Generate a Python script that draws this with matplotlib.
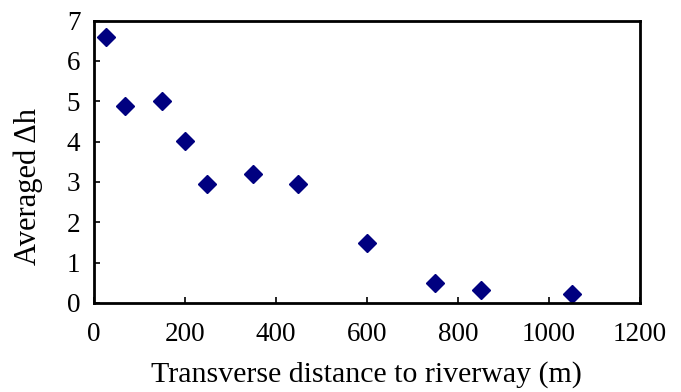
import matplotlib
matplotlib.use('Agg')
import matplotlib.pyplot as plt

# distance (m) and averaged dh
distance = [27, 70, 150, 200, 250, 350, 450, 600, 750, 850, 1050]
avg_dh = [6.58, 4.88, 5.01, 4.02, 2.96, 3.19, 2.94, 1.49, 0.49, 0.31, 0.22]

x_ticks = [0, 200, 400, 600, 800, 1000, 1200]
y_ticks = [0, 1, 2, 3, 4, 5, 6, 7]

plt.rcParams['font.family'] = ['Liberation Serif', 'DejaVu Serif']

fig = plt.figure(figsize=(6.81, 3.92), dpi=100)
ax = fig.add_axes([93.5/681, 1 - 303/392, (640-93.5)/681, (303-20.5)/392])

ax.plot(distance, avg_dh, linestyle='none', marker='D', markersize=9.5,
        color='#000080', markeredgecolor='#000080')

ax.set_xlim(0, 1200)
ax.set_ylim(0, 7)
ax.set_xticks(x_ticks)
ax.set_yticks(y_ticks)
ax.tick_params(direction='in', length=4.5, width=1.2, labelsize=19.5)
ax.tick_params(axis='x', top=False, pad=14)
ax.tick_params(axis='y', right=False, pad=9.5)
for s in ax.spines.values():
    s.set_linewidth(2)

ax.set_xlabel('Transverse distance to riverway (m)', fontsize=21.5)
ax.set_ylabel('Averaged \u0394h', fontsize=22)
ax.xaxis.set_label_coords(0.5, -0.205)
ax.yaxis.set_label_coords(-0.092, 0.414)

fig.savefig('out.png', dpi=100)
